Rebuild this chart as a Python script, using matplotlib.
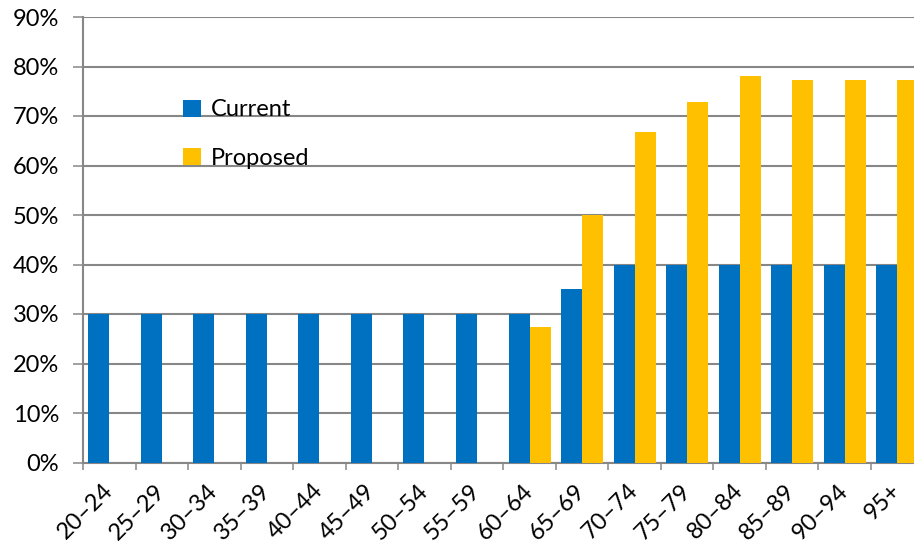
import numpy as np
import matplotlib
matplotlib.use('Agg')
import matplotlib.pyplot as plt
from matplotlib.ticker import PercentFormatter, FixedLocator

plt.rcParams['font.family'] = ['Lato', 'DejaVu Sans']

# age bands and pension percentages
age_bands = ['20–24', '25–29', '30–34', '35–39', '40–44', '45–49', '50–54', '55–59',
             '60–64', '65–69', '70–74', '75–79', '80–84', '85–89', '90–94', '95+']
current = [30, 30, 30, 30, 30, 30, 30, 30, 30, 35, 40, 40, 40, 40, 40, 40]
proposed = [0, 0, 0, 0, 0, 0, 0, 0, 27.3, 50, 66.8, 72.9, 78.1, 77.3, 77.3, 77.3]

BLUE = '#0070C0'
GOLD = '#FFC000'
GRID = '#878787'
FS = 17

fig = plt.figure(figsize=(9.14, 5.46), dpi=100)
ax = fig.add_axes([83 / 914, 83.5 / 546, 840.5 / 914, 445.5 / 546])

x = np.arange(len(age_bands))
w = 0.4
ax.bar(x - w / 2, current, width=w, color=BLUE, label='Current', zorder=3)
ax.bar(x + w / 2, proposed, width=w, color=GOLD, label='Proposed', zorder=3)

ax.set_xlim(-0.5, len(age_bands) - 0.5)
ax.set_ylim(0, 90)
ax.set_yticks(np.arange(0, 91, 10))
ax.yaxis.set_major_formatter(PercentFormatter(decimals=0))
ax.yaxis.grid(True, color=GRID, linewidth=1.5, zorder=0)

for side in ['top', 'right']:
    ax.spines[side].set_visible(False)
for side in ['left', 'bottom']:
    ax.spines[side].set_color(GRID)
    ax.spines[side].set_linewidth(1.5)

ax.tick_params(axis='y', length=7.2, width=1.1, color=GRID, pad=10, labelsize=FS)

# category labels at the centres, tick marks on the boundaries
ax.set_xticks(x)
ax.set_xticklabels(age_bands, rotation=45, ha='right', va='center',
                   rotation_mode='anchor', fontsize=FS)
ax.tick_params(axis='x', which='major', length=0, pad=18)
ax.xaxis.set_minor_locator(FixedLocator(np.arange(-0.5, len(age_bands), 1)))
ax.tick_params(axis='x', which='minor', length=5, width=1.1, color=GRID)

ax.legend(loc='upper left', bbox_to_anchor=(0.119, 0.815), frameon=False,
          fontsize=FS, handlelength=0.75, handleheight=0.75, handletextpad=0.45,
          labelspacing=1.16, borderpad=0, borderaxespad=0)

fig.savefig('out.png', dpi=100)
